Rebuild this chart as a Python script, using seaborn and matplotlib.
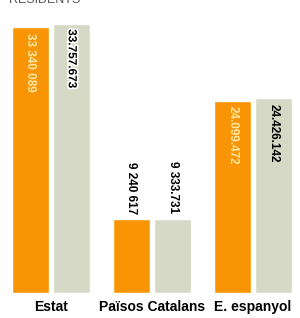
import numpy as np
import pandas as pd
import matplotlib
matplotlib.use("Agg")
import matplotlib.pyplot as plt
import matplotlib.patheffects as pe
import seaborn as sns

# data
categories = ["Estat", "Països Catalans", "E. espanyol"]
serie_1 = [33340089, 9240617, 24099472]
serie_2 = [33757673, 9333731, 24426142]
labels_1 = ["33 340 089", "9 240 617", "24.099.472"]
labels_2 = ["33.757.673", "9 333.731", "24.426.142"]

df = pd.DataFrame({
    "zona": categories * 2,
    "residents": serie_1 + serie_2,
    "serie": ["s1"] * 3 + ["s2"] * 3,
})

sns.set_style("white")
plt.rcParams['font.family'] = ['Liberation Sans Narrow', 'Liberation Sans', 'DejaVu Sans']

fig = plt.figure(figsize=(3.0, 3.18), dpi=100)
ax = fig.add_axes([0, 25 / 318, 1, 293 / 318])

sns.barplot(data=df, x="zona", y="residents", hue="serie",
            palette=["#F99504", "#D6D9C6"], width=0.82, gap=0.1,
            legend=False, ax=ax, saturation=1)

ax.set_xlim(-0.505, 2.465)
ax.set_ylim(0, 36.72e6)
ax.set_xlabel("")
ax.set_ylabel("")
ax.set_yticks([])
ax.tick_params(axis="x", length=0, pad=5)
ax.set_xticks(range(3))
ax.set_xticklabels(categories, fontsize=10, fontweight="bold", color="black")
sns.despine(ax=ax, left=True, bottom=True)

orange_bars = ax.containers[0]
grey_bars = ax.containers[1]

fs = 8.5
for i, (p, lab) in enumerate(zip(orange_bars, labels_1)):
    cx = p.get_x() + p.get_width() / 2
    top = p.get_height()
    if i == 1:
        ax.annotate(lab, (cx, top), xytext=(0, 4), textcoords="offset points",
                    rotation=-90, ha="center", va="bottom", fontsize=fs,
                    fontweight="bold", color="black")
    else:
        ax.annotate(lab, (cx, top), xytext=(0, -4), textcoords="offset points",
                    rotation=-90, ha="center", va="top", fontsize=fs,
                    fontweight="bold", color="#FFE8A6")

for i, (p, lab) in enumerate(zip(grey_bars, labels_2)):
    cx = p.get_x() + p.get_width() / 2
    top = p.get_height()
    if i == 1:
        ax.annotate(lab, (cx, top), xytext=(0, 4), textcoords="offset points",
                    rotation=-90, ha="center", va="bottom", fontsize=fs,
                    fontweight="bold", color="black")
    else:
        t = ax.annotate(lab, (cx, top), xytext=(0, -4), textcoords="offset points",
                        rotation=-90, ha="center", va="top", fontsize=fs,
                        fontweight="bold", color="black")
        if i == 0:
            t.set_path_effects([pe.withStroke(linewidth=2.5, foreground="white")])

# title cut off at the top edge, as in the source
fig.text(0.03, 1.0, "RESIDENTS", fontsize=9, color="#555555", va="center")

fig.savefig("out.png", dpi=100, facecolor="white")
